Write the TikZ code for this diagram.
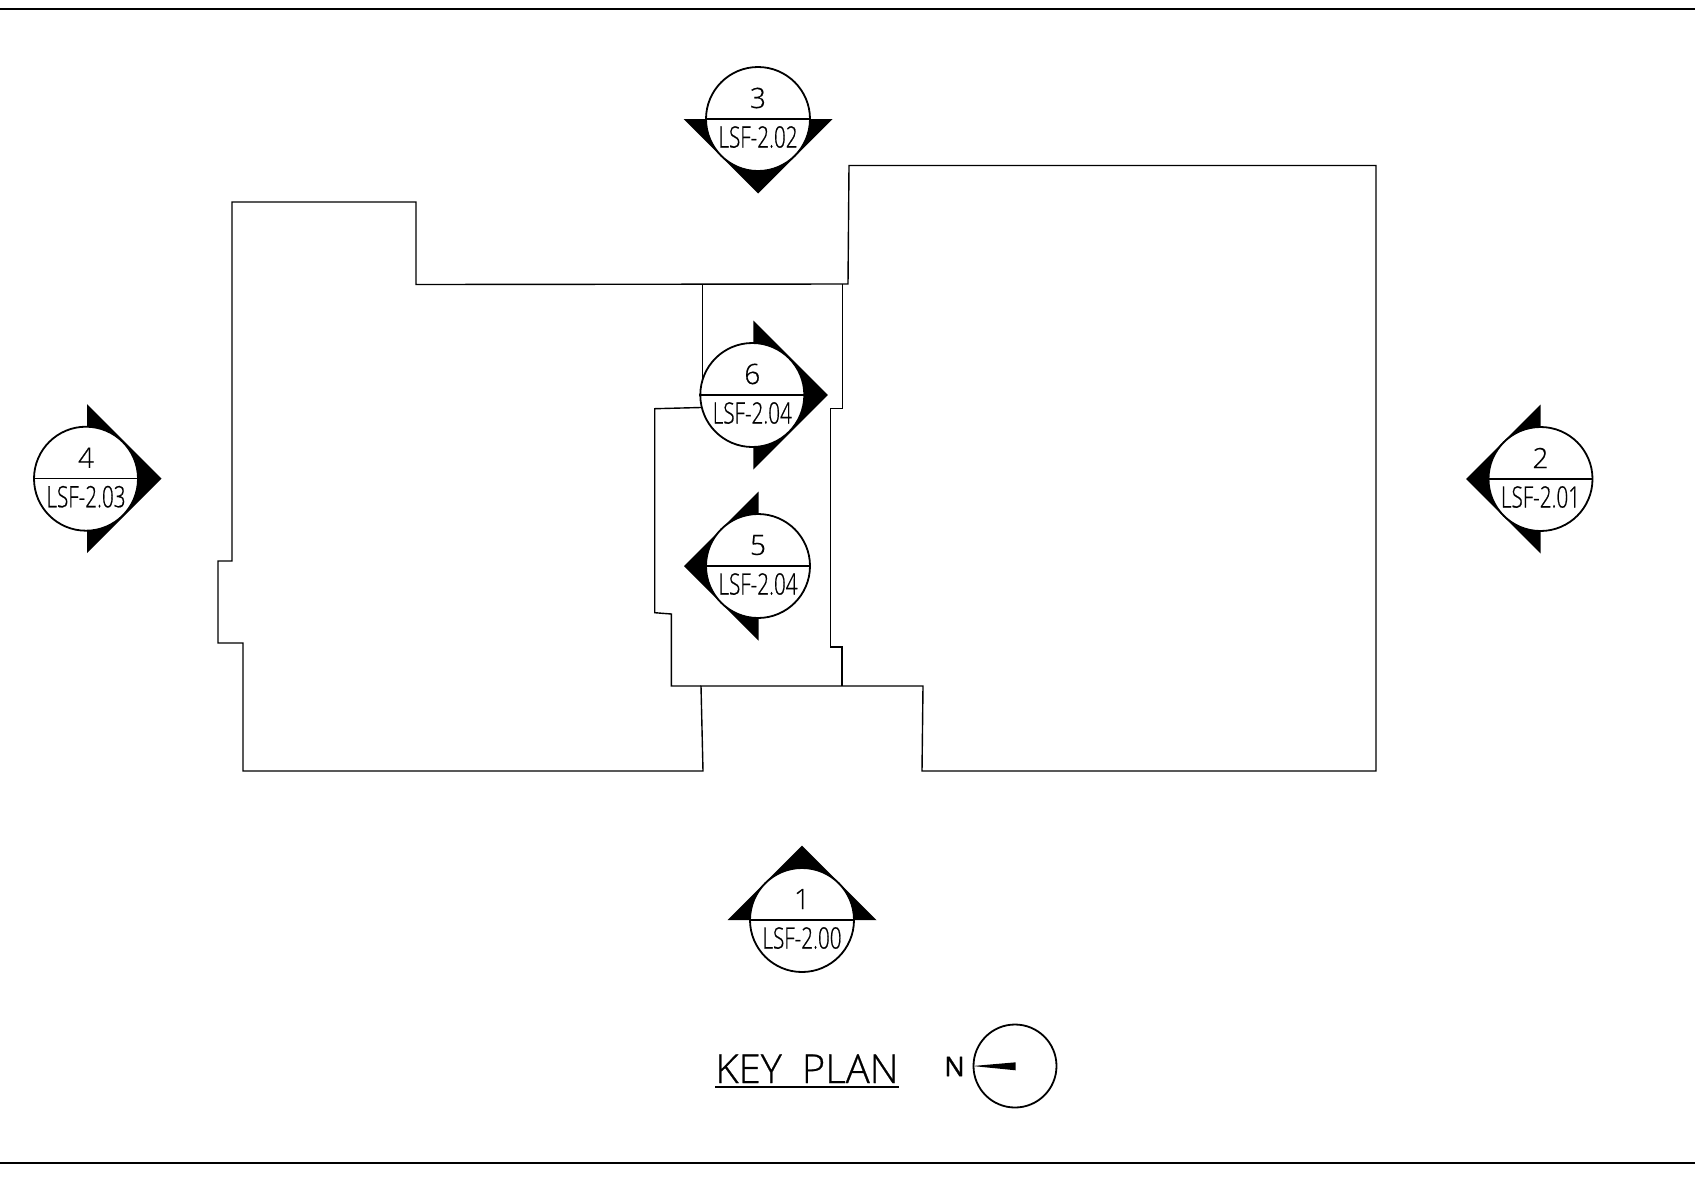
\documentclass[tikz,border=0pt]{standalone}
\usepackage{fontspec}
\newfontfamily\cadfont[FakeBold=0.6]{Open Sans Light}
\newfontfamily\cadnarrow[FakeStretch=0.7,FakeBold=0.6]{Open Sans Light}
\newfontfamily\cadnorth[FakeBold=1]{Open Sans}
\usetikzlibrary{calc,positioning}

\begin{document}
\begin{tikzpicture}[
  x=1pt,
  y=-1pt,
  line width=1.4pt,
  markcirc/.style={
    draw,
    fill=white,
    circle,
    line width=1.8pt,
    inner sep=0pt,
    minimum size=104pt
    },
  marknum/.style={
    font=\cadfont\fontsize{28}{28}\selectfont,
    inner sep=0pt
    },
  marksheet/.style={
    font=\cadnarrow\fontsize{29.5}{29.5}\selectfont,
    inner sep=0pt
    }
]

\useasboundingbox (0,0) rectangle (1695,1176);
\fill[white] (0,0) rectangle (1695,1176);

\draw[line width=2pt] (0,8.5) -- (1695,8.5);
\draw[line width=2pt] (0,1163) -- (1695,1163);

% building outline
\draw (232,202) -- (416,202) -- (416,284.5) -- (848,284) -- (849,165.5)
  -- (1376,165.5) -- (1376,771) -- (922,771) -- (923,686) -- (701,686)
  -- (703,771) -- (243,771) -- (243,643) -- (218,643) -- (218,561)
  -- (232,561) -- cycle;
% courtyard
\draw (702.7,284) -- (702.7,385);
\draw (842.3,284) -- (842.3,408.7) -- (830.3,408.7) -- (830.3,647)
  -- (842,647) -- (842,686);
\draw (720,407) -- (654.7,408.7) -- (654.7,612.7) -- (671.3,614) -- (671.3,686)
  -- (701,686);

% section marks
\foreach \Mark/\Xpos/\Ypos/\Ang/\Dx/\Sheet in {
  1/802/920/90/0/LSF-2.00,
  2/1540.5/479/180/0/LSF-2.01,
  3/758/119/-90/0/LSF-2.02,
  4/86/478.7/0/1/LSF-2.03,
  5/758/566/180/0.5/LSF-2.04,
  6/752.3/395/0/1/LSF-2.04}
{
  \fill ({\Xpos+\Dx},\Ypos) +(\Ang:74.5pt) -- +(\Ang+90:74.5pt) -- +(\Ang-90:74.5pt) -- cycle;
  \node[markcirc] (circ\Mark) at (\Xpos,\Ypos) {};
  \draw[line width=1.1pt] (circ\Mark.west) -- (circ\Mark.east);
  \node[marknum] (num\Mark) at ($(circ\Mark.center)+(0,-21)$) {\Mark};
  \node[marksheet] (sheet\Mark) at ($(circ\Mark.center)+(0,18)$) {\Sheet};
}

% title and north mark
\node[font=\cadfont\fontsize{40}{40}\selectfont,inner sep=0pt,anchor=base] (title)
  at (807,1083) {KEY\hspace{0.5em}PLAN};
\draw[line width=2.2pt] (715,1087) -- (898.7,1087);
\node[font=\cadnorth\fontsize{27}{27}\selectfont,inner sep=0pt] (northlabel) at (954.5,1066.5) {N};
\node[draw,circle,line width=1.8pt,inner sep=0pt,minimum size=83pt] (northcirc) at (1015,1066) {};
\fill (northcirc.west) -- (1015.7,1062.3) -- (1015.7,1070.3) -- cycle;

\end{tikzpicture}
\end{document}
